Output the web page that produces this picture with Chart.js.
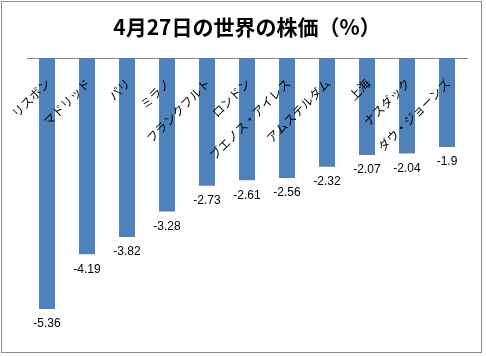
<!DOCTYPE html>
<html><head><meta charset="utf-8">
<script src="https://cdn.jsdelivr.net/npm/chart.js@4"></script>
<style>
html,body{margin:0;padding:0;background:#fff;}
#wrap{position:relative;width:486px;height:356px;}
#frame{position:absolute;left:1px;top:1px;width:479px;height:350px;border:1px solid #8c8c8c;box-sizing:content-box;pointer-events:none;}
</style></head>
<body>
<div id="wrap"><canvas id="c" width="486" height="356"></canvas><div id="frame"></div></div>
<script>
const titleText = '4月27日の世界の株価（%）';
const categories = ['リスボン','マドリッド','パリ','ミラノ','フランクフルト','ロンドン','ブエノス・アイレス','アムステルダム','上海','ナスダック','ダウ・ジョーンズ'];
const values = [-5.36,-4.19,-3.82,-3.28,-2.73,-2.61,-2.56,-2.32,-2.07,-2.04,-1.9];
const valueLabels = ['-5.36','-4.19','-3.82','-3.28','-2.73','-2.61','-2.56','-2.32','-2.07','-2.04','-1.9'];

const labelPlugin = {
  id: 'labelPlugin',
  afterDatasetsDraw(chart) {
    const ctx = chart.ctx;
    const xs = chart.scales.x;
    const top = chart.chartArea.top;
    ctx.save();
    ctx.fillStyle = '#000';
    ctx.font = '12px "Noto Sans CJK JP"';
    ctx.textAlign = 'right';
    ctx.textBaseline = 'middle';
    categories.forEach((c, i) => {
      const x = xs.getPixelForValue(i) + 1;
      const y = top + 23;
      ctx.save();
      ctx.translate(x, y);
      ctx.rotate(-Math.PI / 4);
      ctx.fillText(c, 0, 0);
      ctx.restore();
    });
    ctx.font = '12px "Liberation Sans"';
    ctx.textAlign = 'center';
    ctx.textBaseline = 'middle';
    const meta = chart.getDatasetMeta(0);
    meta.data.forEach((bar, i) => {
      ctx.fillText(valueLabels[i], bar.x, bar.y + 15);
    });
    ctx.restore();
  }
};

new Chart(document.getElementById('c'), {
  type: 'bar',
  data: {
    labels: categories,
    datasets: [{
      data: values,
      backgroundColor: '#4f81bd',
      borderWidth: 0,
      barPercentage: 1,
      categoryPercentage: 0.4
    }]
  },
  options: {
    responsive: false,
    animation: false,
    layout: { padding: { left: 27, right: 19, top: 0, bottom: 17 } },
    plugins: {
      legend: { display: false },
      tooltip: { enabled: false },
      title: {
        display: true,
        text: titleText,
        color: '#000',
        font: { family: '"Noto Sans CJK JP"', size: 21, weight: 'bold', lineHeight: 1.2 },
        padding: { top: 14.4, bottom: 18.4 }
      }
    },
    scales: {
      x: {
        position: 'top',
        grid: { display: false, drawTicks: false },
        border: { display: true, color: '#868686', width: 1 },
        ticks: { display: false }
      },
      y: {
        display: false,
        min: -6,
        max: 0
      }
    }
  },
  plugins: [labelPlugin]
});
</script>
</body></html>
